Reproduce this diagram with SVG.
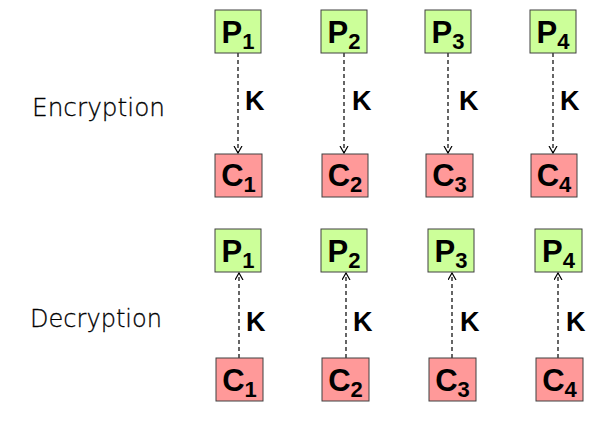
<svg xmlns="http://www.w3.org/2000/svg" width="603" height="442" viewBox="0 0 603 442">
<style>
.p{fill:#ccff99;stroke:#404040;stroke-width:1}
.c{fill:#ff9999;stroke:#404040;stroke-width:1}
.t{font-family:"Liberation Sans",Arial,sans-serif;font-weight:bold;font-size:31px;fill:#000;text-anchor:middle}
.s{font-size:22px}
.k{font-family:"Liberation Sans",Arial,sans-serif;font-weight:bold;font-size:27px;fill:#000}
.lbl{font-family:"DejaVu Sans",sans-serif;font-weight:200;font-size:24.5px;fill:#000;stroke:#000;stroke-width:0.3}
.e{stroke:#000;stroke-width:1.2;stroke-dasharray:4 3;fill:none}
</style>
<defs>
<marker id="ah" markerUnits="userSpaceOnUse" markerWidth="10" markerHeight="10" refX="7" refY="4.5" orient="auto">
<path d="M0,0.5 L7,4.5 L0,8.5" fill="none" stroke="#000" stroke-width="1.2"/>
</marker>
</defs>
<text class="lbl" x="32" y="116" textLength="133" lengthAdjust="spacingAndGlyphs">Encryption</text>
<text class="lbl" x="30" y="327" textLength="132" lengthAdjust="spacingAndGlyphs">Decryption</text>
<g id="connectors">
<line class="e" x1="238" y1="53" x2="238" y2="153" marker-end="url(#ah)"/>
<line class="e" x1="344" y1="53" x2="344" y2="153" marker-end="url(#ah)"/>
<line class="e" x1="448" y1="53" x2="448" y2="153" marker-end="url(#ah)"/>
<line class="e" x1="553" y1="53" x2="553" y2="153" marker-end="url(#ah)"/>
<line class="e" x1="239" y1="358" x2="239" y2="273" marker-end="url(#ah)"/>
<line class="e" x1="346" y1="358" x2="346" y2="273" marker-end="url(#ah)"/>
<line class="e" x1="452" y1="358" x2="452" y2="273" marker-end="url(#ah)"/>
<line class="e" x1="558" y1="358" x2="558" y2="273" marker-end="url(#ah)"/>
<text class="k" x="245" y="110">K</text>
<text class="k" x="352" y="110">K</text>
<text class="k" x="459" y="110">K</text>
<text class="k" x="560" y="110">K</text>
<text class="k" x="246" y="331">K</text>
<text class="k" x="353" y="331">K</text>
<text class="k" x="460" y="331">K</text>
<text class="k" x="566" y="331">K</text>
</g>
<g id="enc-p1"><rect class="p" x="215" y="10" width="46" height="43"/><text class="t" x="238" y="43">P<tspan class="s" dy="6">1</tspan></text></g>
<g id="enc-p2"><rect class="p" x="321" y="10" width="46" height="43"/><text class="t" x="344" y="43">P<tspan class="s" dy="6">2</tspan></text></g>
<g id="enc-p3"><rect class="p" x="425" y="10" width="46" height="43"/><text class="t" x="448" y="43">P<tspan class="s" dy="6">3</tspan></text></g>
<g id="enc-p4"><rect class="p" x="530" y="10" width="46" height="43"/><text class="t" x="553" y="43">P<tspan class="s" dy="6">4</tspan></text></g>
<g id="enc-c1"><rect class="c" x="215" y="154" width="47" height="43"/><text class="t" x="238.5" y="186">C<tspan class="s" dy="6">1</tspan></text></g>
<g id="enc-c2"><rect class="c" x="322" y="154" width="46" height="43"/><text class="t" x="345" y="186">C<tspan class="s" dy="6">2</tspan></text></g>
<g id="enc-c3"><rect class="c" x="426" y="154" width="47" height="43"/><text class="t" x="449.5" y="186">C<tspan class="s" dy="6">3</tspan></text></g>
<g id="enc-c4"><rect class="c" x="531" y="154" width="46" height="43"/><text class="t" x="554" y="186">C<tspan class="s" dy="6">4</tspan></text></g>
<g id="dec-p1"><rect class="p" x="215" y="229" width="46" height="43"/><text class="t" x="238" y="262">P<tspan class="s" dy="6">1</tspan></text></g>
<g id="dec-p2"><rect class="p" x="321" y="229" width="46" height="43"/><text class="t" x="344" y="262">P<tspan class="s" dy="6">2</tspan></text></g>
<g id="dec-p3"><rect class="p" x="428" y="229" width="46" height="43"/><text class="t" x="451" y="262">P<tspan class="s" dy="6">3</tspan></text></g>
<g id="dec-p4"><rect class="p" x="535" y="229" width="47" height="43"/><text class="t" x="558.5" y="262">P<tspan class="s" dy="6">4</tspan></text></g>
<g id="dec-c1"><rect class="c" x="216" y="358" width="47" height="43"/><text class="t" x="239.5" y="391">C<tspan class="s" dy="6">1</tspan></text></g>
<g id="dec-c2"><rect class="c" x="322" y="358" width="47" height="43"/><text class="t" x="345.5" y="391">C<tspan class="s" dy="6">2</tspan></text></g>
<g id="dec-c3"><rect class="c" x="429" y="358" width="47" height="43"/><text class="t" x="452.5" y="391">C<tspan class="s" dy="6">3</tspan></text></g>
<g id="dec-c4"><rect class="c" x="536" y="358" width="47" height="43"/><text class="t" x="559.5" y="391">C<tspan class="s" dy="6">4</tspan></text></g>
</svg>
